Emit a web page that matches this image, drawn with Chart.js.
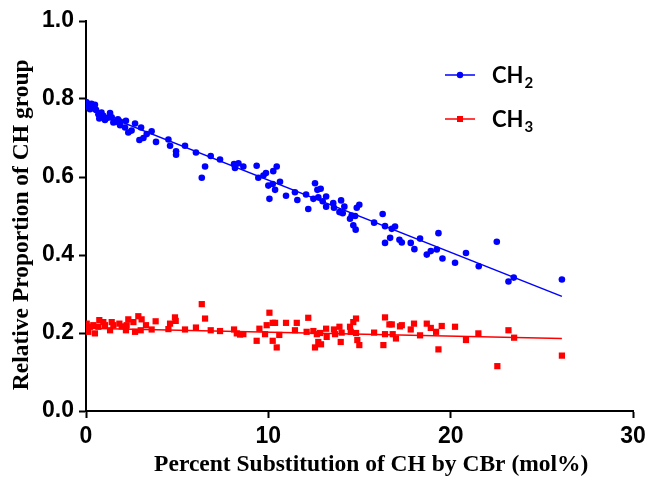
<!DOCTYPE html>
<html>
<head>
<meta charset="utf-8">
<script src="https://cdn.jsdelivr.net/npm/chart.js@4.4.1/dist/chart.umd.min.js"></script>
<style>
  html, body { margin: 0; padding: 0; background: #fff; }
  #wrap { width: 654px; height: 483px; position: relative; }
</style>
</head>
<body>
<div id="wrap"><canvas id="myChart"></canvas></div>
<script>
// CH2 points
const ch2X = [0, 0.04, 0.1, 0, 0.15, 0.22, 0.3, 0.35, 0.49, 0.55, 0.68, 0.73, 0.85, 0.95, 1.04, 1.2, 1.32, 1.41, 1.5, 1.6,
  1.75, 1.87, 1.87, 2.14, 2.19, 2.32, 2.5, 2.69, 2.93, 3.02, 3.15, 3.33, 3.6, 3.84, 4.52, 4.61, 4.94, 4.94, 5.43, 6.03,
  6.35, 6.53, 6.84, 7.35, 8.12, 8.17, 8.36, 8.63, 9.36, 9.45, 9.73, 9.87, 10.0, 10.06, 10.24, 10.27, 10.37, 10.46, 10.64, 10.97,
  11.46, 11.59, 12.07, 12.19, 12.47, 12.56, 12.69, 12.74, 12.87, 12.98, 13.17, 13.17, 13.56, 13.6, 13.9, 13.99, 14.08, 14.17, 14.48, 14.57,
  14.66, 14.76, 14.79, 14.85, 14.99, 15.8, 16.27, 16.4, 16.4, 16.68, 16.77, 16.95, 17.19, 17.32, 17.81, 18.01, 18.32, 18.69, 18.91, 19.24,
  19.33, 19.55, 20.24, 20.84, 21.54, 22.53, 23.17, 23.46, 26.1];
const ch2Y = [0.792, 0.791, 0.785, 0.78, 0.778, 0.774, 0.788, 0.78, 0.785, 0.772, 0.761, 0.75, 0.765, 0.757, 0.746, 0.752, 0.764, 0.753, 0.74, 0.741,
  0.748, 0.742, 0.733, 0.727, 0.744, 0.714, 0.719, 0.737, 0.695, 0.727, 0.70, 0.71, 0.717, 0.69, 0.696, 0.68, 0.666, 0.657, 0.68, 0.663,
  0.598, 0.627, 0.654, 0.645, 0.633, 0.623, 0.635, 0.627, 0.629, 0.598, 0.604, 0.61, 0.578, 0.544, 0.582, 0.615, 0.567, 0.627, 0.588, 0.552,
  0.561, 0.541, 0.555, 0.518, 0.544, 0.584, 0.567, 0.548, 0.57, 0.538, 0.55, 0.524, 0.533, 0.521, 0.51, 0.54, 0.507, 0.524, 0.493, 0.501,
  0.476, 0.50, 0.465, 0.521, 0.529, 0.483, 0.505, 0.474, 0.431, 0.444, 0.467, 0.473, 0.439, 0.432, 0.431, 0.415, 0.442, 0.401, 0.41, 0.414,
  0.456, 0.391, 0.38, 0.405, 0.371, 0.434, 0.332, 0.342, 0.337];

// CH3 points
const ch3X = [0.04, 0, 0.22, 0.13, 0.49, 0.4, 0.73, 0.68, 0.95, 1.04, 1.32, 1.41, 1.5, 1.83, 1.96, 2.23, 2.32, 2.19, 2.6, 2.69,
  2.87, 3.05, 3.0, 3.29, 3.6, 3.82, 4.52, 4.61, 4.88, 4.92, 5.43, 6.03, 6.35, 6.53, 6.84, 7.35, 8.12, 8.27, 8.45, 8.63,
  9.36, 9.51, 9.82, 9.91, 10.06, 10.24, 10.24, 10.37, 10.46, 10.6, 10.97, 11.46, 11.56, 12.1, 12.19, 12.47, 12.56, 12.66, 12.74, 12.84,
  12.89, 13.17, 13.2, 13.6, 13.66, 13.9, 13.97, 14.02, 14.48, 14.52, 14.66, 14.81, 14.81, 14.88, 14.99, 15.8, 16.31, 16.4, 16.4, 16.64,
  16.77, 16.82, 17.0, 17.22, 17.32, 17.81, 17.99, 18.32, 18.69, 18.91, 19.2, 19.33, 19.51, 20.24, 20.84, 21.52, 22.56, 23.17, 23.48, 26.1];
const ch3Y = [0.224, 0.211, 0.216, 0.203, 0.199, 0.22, 0.233, 0.216, 0.228, 0.22, 0.207, 0.228, 0.22, 0.224, 0.217, 0.22, 0.235, 0.207, 0.228, 0.203,
  0.243, 0.235, 0.207, 0.22, 0.209, 0.23, 0.21, 0.224, 0.24, 0.231, 0.209, 0.214, 0.274, 0.237, 0.207, 0.205, 0.209, 0.199, 0.196, 0.197,
  0.18, 0.211, 0.197, 0.22, 0.252, 0.226, 0.18, 0.226, 0.163, 0.195, 0.226, 0.207, 0.226, 0.203, 0.239, 0.205, 0.163, 0.197, 0.177, 0.20,
  0.171, 0.211, 0.19, 0.209, 0.197, 0.216, 0.177, 0.201, 0.216, 0.203, 0.228, 0.237, 0.20, 0.182, 0.169, 0.201, 0.169, 0.197, 0.24, 0.222,
  0.222, 0.197, 0.186, 0.217, 0.22, 0.209, 0.224, 0.194, 0.224, 0.213, 0.203, 0.158, 0.218, 0.216, 0.182, 0.199, 0.115, 0.207, 0.188, 0.142];

// fitted lines, end points
const fitX = [0, 26.1];
const ch2Fit = [0.777, 0.294];
const ch3Fit = [0.212, 0.186];

const xTicks = [0, 10, 20, 30];
const yTicks = [0, 0.2, 0.4, 0.6, 0.8, 1.0];

const BLUE = "#0000ff";
const RED = "#ff0000";

const pts = (xs, ys) => xs.map((x, i) => ({x: x, y: ys[i]}));

// legend drawn inside the plot, top right, with subscripts
const legendPlugin = {
  id: "subLegend",
  afterDraw(chart) {
    const ctx = chart.ctx;
    const items = [
      {color: BLUE, style: "circle", sub: "2", y: 75},
      {color: RED, style: "rect", sub: "3", y: 119},
    ];
    ctx.save();
    items.forEach(it => {
      ctx.strokeStyle = it.color;
      ctx.fillStyle = it.color;
      ctx.lineWidth = 1.5;
      ctx.beginPath();
      ctx.moveTo(445, it.y);
      ctx.lineTo(475, it.y);
      ctx.stroke();
      if (it.style === "circle") {
        ctx.beginPath();
        ctx.arc(460, it.y, 3.2, 0, Math.PI * 2);
        ctx.fill();
      } else {
        ctx.fillRect(457, it.y - 3, 6, 6);
      }
      ctx.fillStyle = "#000";
      ctx.textBaseline = "alphabetic";
      ctx.font = "bold 22px Lato";
      ctx.fillText("CH", 492, it.y + 8);
      const w = ctx.measureText("CH").width;
      ctx.font = "bold 15px Lato";
      ctx.fillText(it.sub, 492 + w + 1, it.y + 13);
    });
    ctx.restore();
  }
};

const ctx = document.getElementById("myChart").getContext("2d");
const myChart = new Chart(ctx, {
  type: "scatter",
  data: {
    datasets: [
      {
        label: "CH2",
        data: pts(ch2X, ch2Y),
        backgroundColor: BLUE,
        borderColor: BLUE,
        pointStyle: "circle",
        pointRadius: 3.3,
        pointBorderWidth: 0,
      },
      {
        label: "CH3",
        data: pts(ch3X, ch3Y),
        backgroundColor: RED,
        borderColor: RED,
        pointStyle: "rect",
        pointRadius: 4.4,
        pointBorderWidth: 0,
      },
      {
        label: "CH2 fit",
        data: pts(fitX, ch2Fit),
        showLine: true,
        borderColor: BLUE,
        borderWidth: 1.5,
        pointRadius: 0,
      },
      {
        label: "CH3 fit",
        data: pts(fitX, ch3Fit),
        showLine: true,
        borderColor: RED,
        borderWidth: 1.5,
        pointRadius: 0,
      },
    ],
  },
  options: {
    responsive: true,
    maintainAspectRatio: false,
    animation: false,
    layout: { padding: { left: 0, top: 21, right: 21, bottom: 0 } },
    scales: {
      x: {
        type: "linear",
        min: 0,
        max: 30,
        afterFit: s => { s.height = 72; },
        afterBuildTicks: s => { s.ticks = xTicks.map(v => ({value: v})); },
        border: { display: true, color: "#000", width: 2 },
        grid: { drawOnChartArea: false, drawTicks: true, tickLength: 7, tickWidth: 2, tickColor: "#000" },
        ticks: {
          color: "#000",
          padding: 5,
          maxRotation: 0,
          font: { family: "'Liberation Sans', Arial", size: 23, weight: "bold" },
        },
        title: {
          display: true,
          // leading no-break spaces nudge the centred title a little to the right, as in the original
          text: "\u00a0\u00a0\u00a0\u00a0Percent Substitution of CH by CBr (mol%)",
          color: "#000",
          padding: { top: 2 },
          font: { family: "'Liberation Serif', 'Times New Roman'", size: 23.5, weight: "bold" },
        },
      },
      y: {
        type: "linear",
        min: 0,
        max: 1.0,
        afterFit: s => { s.width = 86; },
        afterBuildTicks: s => { s.ticks = yTicks.map(v => ({value: v})); },
        border: { display: true, color: "#000", width: 2 },
        grid: { drawOnChartArea: false, drawTicks: true, tickLength: 7, tickWidth: 2, tickColor: "#000" },
        ticks: {
          color: "#000",
          padding: 5,
          callback: v => Number(v).toFixed(1),
          font: { family: "'Liberation Sans', Arial", size: 23, weight: "bold" },
        },
        title: {
          display: true,
          text: "Relative Proportion of CH group\u00a0\u00a0\u00a0",
          color: "#000",
          padding: { top: 8, bottom: 0 },
          font: { family: "'Liberation Serif', 'Times New Roman'", size: 23.5, weight: "bold" },
        },
      },
    },
    plugins: {
      legend: { display: false },
      tooltip: { enabled: false },
    },
  },
  plugins: [legendPlugin],
});
</script>
</body>
</html>
